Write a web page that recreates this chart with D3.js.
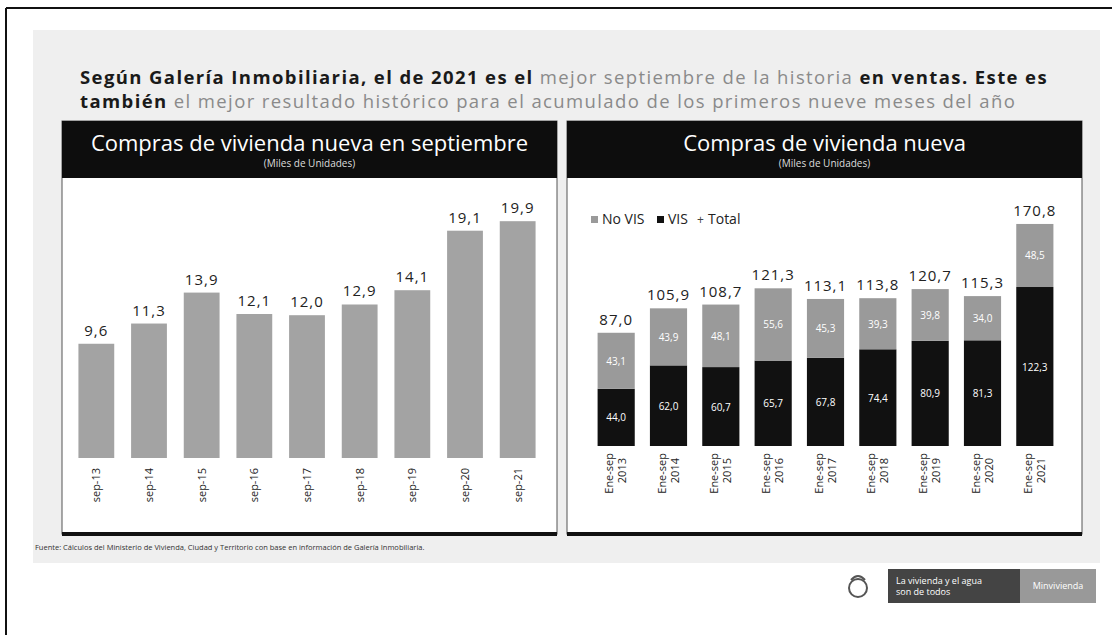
<!DOCTYPE html>
<html>
<head>
<meta charset="utf-8">
<script src="https://cdn.jsdelivr.net/npm/d3@7"></script>
<style>
  body { margin: 0; background: #fff; }
  svg { display: block; font-family: "Open Sans", sans-serif; }
</style>
</head>
<body>
<div id="chart"></div>
<script>
// data
var months = ["sep-13", "sep-14", "sep-15", "sep-16", "sep-17", "sep-18", "sep-19", "sep-20", "sep-21"];
var septValues = [9.6, 11.3, 13.9, 12.1, 12.0, 12.9, 14.1, 19.1, 19.9];

var years = ["2013", "2014", "2015", "2016", "2017", "2018", "2019", "2020", "2021"];
var visValues = [44.0, 62.0, 60.7, 65.7, 67.8, 74.4, 80.9, 81.3, 122.3];
var noVisValues = [43.1, 43.9, 48.1, 55.6, 45.3, 39.3, 39.8, 34.0, 48.5];
var totalValues = [87.0, 105.9, 108.7, 121.3, 113.1, 113.8, 120.7, 115.3, 170.8];

var fmt = function(v) { return d3.format(".1f")(v).replace(".", ","); };

var W = 1112, H = 635;
var svg = d3.select("#chart").append("svg")
  .attr("width", W).attr("height", H);

// page frame + grey slide background
svg.append("rect").attr("x", 0).attr("y", 0).attr("width", W).attr("height", H).attr("fill", "#fff");
svg.append("rect").attr("x", 33).attr("y", 30).attr("width", 1067).attr("height", 533).attr("fill", "#efefef");
svg.append("line").attr("x1", 6).attr("x2", W).attr("y1", 8).attr("y2", 8).attr("stroke", "#111").attr("stroke-width", 2);
svg.append("line").attr("x1", 6).attr("x2", 6).attr("y1", 8).attr("y2", H).attr("stroke", "#111").attr("stroke-width", 2);

// headline (two lines, dark bold + light grey parts)
var headLines = [
  [["Según Galería Inmobiliaria, el de 2021 es el ", true], ["mejor septiembre de la historia ", false], ["en ventas. Este es", true]],
  [["también", true], [" el mejor resultado histórico para el acumulado de los primeros nueve meses del año", false]]
];
var headTexts = headLines.map(function(line, i) {
  var t = svg.append("text").attr("x", 80).attr("y", 84 + i * 24).style("font-size", "18.5px");
  line.forEach(function(seg) {
    t.append("tspan").text(seg[0])
      .attr("font-weight", seg[1] ? "bold" : "normal")
      .attr("fill", seg[1] ? "#1a1a1a" : "#8a8a8a");
  });
  return t;
});
// stretch line 1 to the reference width with letter spacing, reuse it for line 2
var n1 = headLines[0].map(function(s) { return s[0]; }).join("").length;
var ls = Math.max(0, (968 - headTexts[0].node().getComputedTextLength()) / n1);
headTexts.forEach(function(t) { t.style("letter-spacing", ls + "px"); });

// panel frames
function panel(x0, x1, title) {
  svg.append("rect").attr("x", x0).attr("y", 121).attr("width", x1 - x0).attr("height", 413)
    .attr("fill", "#fff").attr("stroke", "#555").attr("stroke-width", 1);
  svg.append("rect").attr("x", x0).attr("y", 121).attr("width", x1 - x0).attr("height", 57).attr("fill", "#0d0d0d");
  svg.append("rect").attr("x", x0).attr("y", 532).attr("width", x1 - x0).attr("height", 4).attr("fill", "#111");
  svg.append("text").attr("x", (x0 + x1) / 2).attr("y", 151).attr("text-anchor", "middle")
    .attr("fill", "#fff").style("font-size", "22px").text(title);
  svg.append("text").attr("x", (x0 + x1) / 2).attr("y", 167).attr("text-anchor", "middle")
    .attr("fill", "#ddd").style("font-size", "10px").text("(Miles de Unidades)");
}
panel(62, 557, "Compras de vivienda nueva en septiembre");
panel(567, 1082, "Compras de vivienda nueva");

// left chart
var xL = d3.scaleBand().domain(months).range([70, 544]).paddingInner(0.32).paddingOuter(0.16);
var yL = d3.scaleLinear().domain([0, 20]).range([458, 220]);

svg.selectAll(".barL").data(septValues).enter().append("rect")
  .attr("class", "barL")
  .attr("x", function(d, i) { return xL(months[i]); })
  .attr("y", function(d) { return yL(d); })
  .attr("width", xL.bandwidth())
  .attr("height", function(d) { return yL(0) - yL(d); })
  .attr("fill", "#a3a3a3");

svg.selectAll(".lblL").data(septValues).enter().append("text")
  .attr("x", function(d, i) { return xL(months[i]) + xL.bandwidth() / 2; })
  .attr("y", function(d) { return yL(d) - 8; })
  .attr("text-anchor", "middle").attr("fill", "#222")
  .style("font-size", "15px").style("letter-spacing", "1px")
  .text(function(d) { return fmt(d); });

svg.selectAll(".tickL").data(months).enter().append("text")
  .attr("transform", function(d) { return "translate(" + (xL(d) + xL.bandwidth() / 2 + 4) + ",468) rotate(-90)"; })
  .attr("text-anchor", "end").attr("fill", "#222")
  .style("font-size", "11px")
  .text(function(d) { return d; });

// right chart
var xR = d3.scaleBand().domain(years).range([590, 1061]).paddingInner(0.29).paddingOuter(0.145);
var yR = d3.scaleLinear().domain([0, 180]).range([446, 212]);

var stackData = years.map(function(y, i) { return { year: y, vis: visValues[i], novis: noVisValues[i] }; });
var series = d3.stack().keys(["vis", "novis"])(stackData);
var colors = { vis: "#111", novis: "#9a9a9a" };

series.forEach(function(s) {
  svg.selectAll(".seg-" + s.key).data(s).enter().append("rect")
    .attr("x", function(d) { return xR(d.data.year); })
    .attr("y", function(d) { return yR(d[1]); })
    .attr("width", xR.bandwidth())
    .attr("height", function(d) { return yR(d[0]) - yR(d[1]); })
    .attr("fill", colors[s.key]);
  svg.selectAll(".segl-" + s.key).data(s).enter().append("text")
    .attr("x", function(d) { return xR(d.data.year) + xR.bandwidth() / 2; })
    .attr("y", function(d) { return (yR(d[0]) + yR(d[1])) / 2 + 4; })
    .attr("text-anchor", "middle").attr("fill", "#fff")
    .style("font-size", "10px")
    .text(function(d) { return fmt(d[1] - d[0]); });
});

svg.selectAll(".tot").data(totalValues).enter().append("text")
  .attr("x", function(d, i) { return xR(years[i]) + xR.bandwidth() / 2; })
  .attr("y", function(d) { return yR(d) - 8; })
  .attr("text-anchor", "middle").attr("fill", "#222")
  .style("font-size", "15px").style("letter-spacing", "1px")
  .text(function(d) { return fmt(d); });

years.forEach(function(y) {
  var cx = xR(y) + xR.bandwidth() / 2;
  svg.append("text")
    .attr("transform", "translate(" + (cx - 3) + ",453) rotate(-90)")
    .attr("text-anchor", "end").attr("fill", "#222").style("font-size", "11px").text("Ene-sep");
  svg.append("text")
    .attr("transform", "translate(" + (cx + 10) + ",458) rotate(-90)")
    .attr("text-anchor", "end").attr("fill", "#222").style("font-size", "11px").text(y);
});

// legend
var legend = [["No VIS", "#9a9a9a", "sq"], ["VIS", "#111", "sq"], ["Total", "#444", "plus"]];
var lx = [591, 657, 697];
legend.forEach(function(l, i) {
  if (l[2] == "sq") {
    svg.append("rect").attr("x", lx[i]).attr("y", 216).attr("width", 7).attr("height", 7).attr("fill", l[1]);
  } else {
    svg.append("text").attr("x", lx[i]).attr("y", 224).attr("fill", l[1]).style("font-size", "12px").text("+");
  }
  svg.append("text").attr("x", lx[i] + 11).attr("y", 224).attr("fill", "#222")
    .style("font-size", "14px").text(l[0]);
});

// source
svg.append("text").attr("x", 35).attr("y", 550).attr("fill", "#333").style("font-size", "7.5px")
  .text("Fuente: Cálculos del Ministerio de Vivienda, Ciudad y Territorio con base en información de Galería Inmobiliaria.");

// logo block
svg.append("circle").attr("cx", 858).attr("cy", 588).attr("r", 9).attr("fill", "none").attr("stroke", "#555").attr("stroke-width", 2);
svg.append("path").attr("d", "M851,580 Q858,572 865,580").attr("fill", "none").attr("stroke", "#555").attr("stroke-width", 2);
svg.append("rect").attr("x", 888).attr("y", 569).attr("width", 132).attr("height", 34).attr("fill", "#444");
svg.append("rect").attr("x", 1020).attr("y", 569).attr("width", 76).attr("height", 34).attr("fill", "#999");
svg.append("text").attr("x", 896).attr("y", 584).attr("fill", "#fff").style("font-size", "9px").text("La vivienda y el agua");
svg.append("text").attr("x", 896).attr("y", 595).attr("fill", "#fff").style("font-size", "9px").text("son de todos");
svg.append("text").attr("x", 1058).attr("y", 589).attr("text-anchor", "middle").attr("fill", "#fff").style("font-size", "9px").text("Minvivienda");
</script>
</body>
</html>
